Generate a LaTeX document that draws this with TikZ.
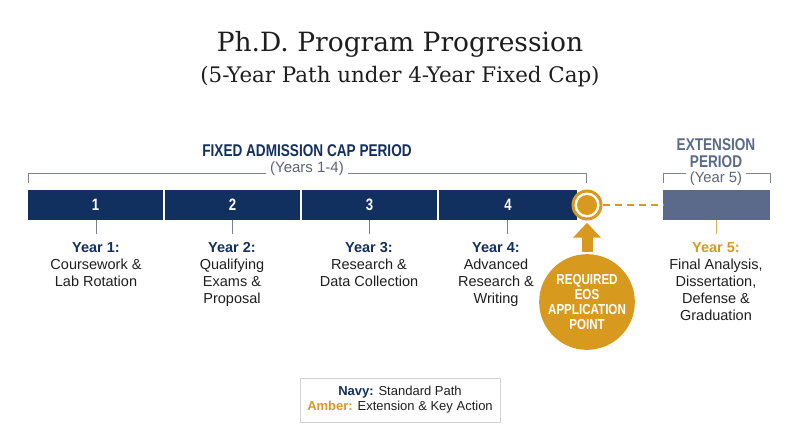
\documentclass[tikz,border=0pt]{standalone}
\usepackage{fontspec}
\setmainfont{Liberation Sans}
\newfontfamily\titlefont{DejaVu Serif}
\newfontfamily\condfont[FakeStretch=0.80]{Liberation Sans}
\usetikzlibrary{arrows.meta}
\definecolor{navy}{HTML}{12305F}
\definecolor{amberc}{HTML}{D8991F}
\definecolor{slate}{HTML}{5B6A8B}
\definecolor{graytxt}{HTML}{5E6472}
\definecolor{tickgray}{HTML}{7A8090}
\definecolor{bodytxt}{HTML}{1E1E1E}
\tikzset{
  seg/.style={fill=navy, inner sep=0, minimum height=30, text=white, font=\condfont\bfseries\fontsize{16.5}{18}\selectfont},
  lab/.style={align=center, inner sep=0, anchor=north, text=bodytxt, font=\fontsize{14.5}{17}\selectfont},
  ticky/.style={draw=tickgray, line width=1},
  brk/.style={draw=graytxt!80, line width=1},
  head/.style={font=\condfont\bfseries\fontsize{17}{17}\selectfont, inner sep=0},
}
\begin{document}
\begin{tikzpicture}[x=1pt,y=-1pt]
\useasboundingbox (0,0) rectangle (800,447);
% titles
\node[font=\titlefont\fontsize{26.5}{30}\selectfont, inner sep=0, text=bodytxt] (title) at (400,44) {Ph.D. Program Progression};
\node[font=\titlefont\fontsize{21.4}{24}\selectfont, inner sep=0, text=bodytxt] (subtitle) at (400,77) {(5-Year Path under 4-Year Fixed Cap)};
% header
\node[head, text=navy] (fixhead) at (307,151) {FIXED ADMISSION CAP PERIOD};
\coordinate (bl) at (28,183);
\coordinate (br) at (586,183);
\draw[brk] (bl) -- (28,173) -- (586,173) -- (br);
\node[fill=white, inner xsep=4, inner ysep=1, text=graytxt, font=\fontsize{15}{16}\selectfont] (yrs) at (307,169) {(Years 1-4)};
% extension header
\node[head, text=slate, align=center] (exthead) at (716,153.5) {EXTENSION\\PERIOD};
\coordinate (el) at (663,183);
\coordinate (er) at (770,183);
\draw[brk] (el) -- (663,173) -- (770,173) -- (er);
\node[fill=white, inner xsep=4, inner ysep=1, text=graytxt, font=\fontsize{14.8}{16}\selectfont] (yr5) at (716,179) {(Year 5)};
% bar
\node[seg, minimum width=135] (s1) at (95.5,205) {1};
\node[seg, minimum width=135] (s2) at (232.5,205) {2};
\node[seg, minimum width=135] (s3) at (369.5,205) {3};
\node[seg, minimum width=138, text width=138, align=center] (s4) at (508,205) {4};
\node[fill=slate, minimum width=107, minimum height=30, inner sep=0] (ext) at (716.5,205) {};
% marker
\node[circle, fill=amberc, minimum size=31, inner sep=0] (mk) at (587,205) {};
\node[circle, fill=white, minimum size=25, inner sep=0] (mkw) at (mk) {};
\node[circle, fill=amberc, minimum size=20, inner sep=0] (mki) at (mk) {};
\draw[amberc, line width=2.5, dash pattern=on 7pt off 5pt] (mk.east) -- (ext.west);
% ticks
\coordinate (t1) at (96,234);
\coordinate (t2) at (232,234);
\coordinate (t3) at (369,234);
\coordinate (t4) at (507,234);
\coordinate (t5) at (716,234);
\draw[ticky] (s1.south -| t1) -- (t1);
\draw[ticky] (s2.south -| t2) -- (t2);
\draw[ticky] (s3.south -| t3) -- (t3);
\draw[ticky] (s4.south -| t4) -- (t4);
\draw[draw=amberc!80, line width=1] (ext.south -| t5) -- (t5);
% labels
\node[lab] (l1) at (96,242.5) {\textcolor{navy}{\bfseries Year 1:}\\Coursework \&\\Lab Rotation};
\node[lab] (l2) at (232,242.5) {\textcolor{navy}{\bfseries Year 2:}\\Qualifying\\Exams \&\\Proposal};
\node[lab] (l3) at (369,242.5) {\textcolor{navy}{\bfseries Year 3:}\\Research \&\\Data Collection};
\node[lab] (l4) at (496,242.5) {\textcolor{navy}{\bfseries Year 4:}\\Advanced\\Research \&\\Writing};
\node[lab] (l5) at (716,242.5) {\textcolor{amberc}{\bfseries Year 5:}\\Final Analysis,\\Dissertation,\\Defense \&\\Graduation};
% EOS point
\node[circle, fill=amberc, minimum size=95, inner sep=0, text=white, align=center,
      font=\condfont\bfseries\fontsize{14.5}{15.2}\selectfont] (eos) at (587,302) {REQUIRED\\EOS\\APPLICATION\\POINT};
\draw[amberc, line width=11, -{Triangle[width=27pt,length=15pt]}, shorten >=2] ([yshift=2]eos.north) -- (mk.south);
% legend
\node[draw=gray!35, line width=1, minimum width=200, minimum height=44, align=center, inner sep=0, text=bodytxt,
      font=\fontsize{13}{15}\selectfont] (legend) at (400,400)
  {\textcolor{navy}{\bfseries Navy:} Standard Path\\\textcolor{amberc}{\bfseries Amber:} Extension \& Key Action};
\end{tikzpicture}
\end{document}
